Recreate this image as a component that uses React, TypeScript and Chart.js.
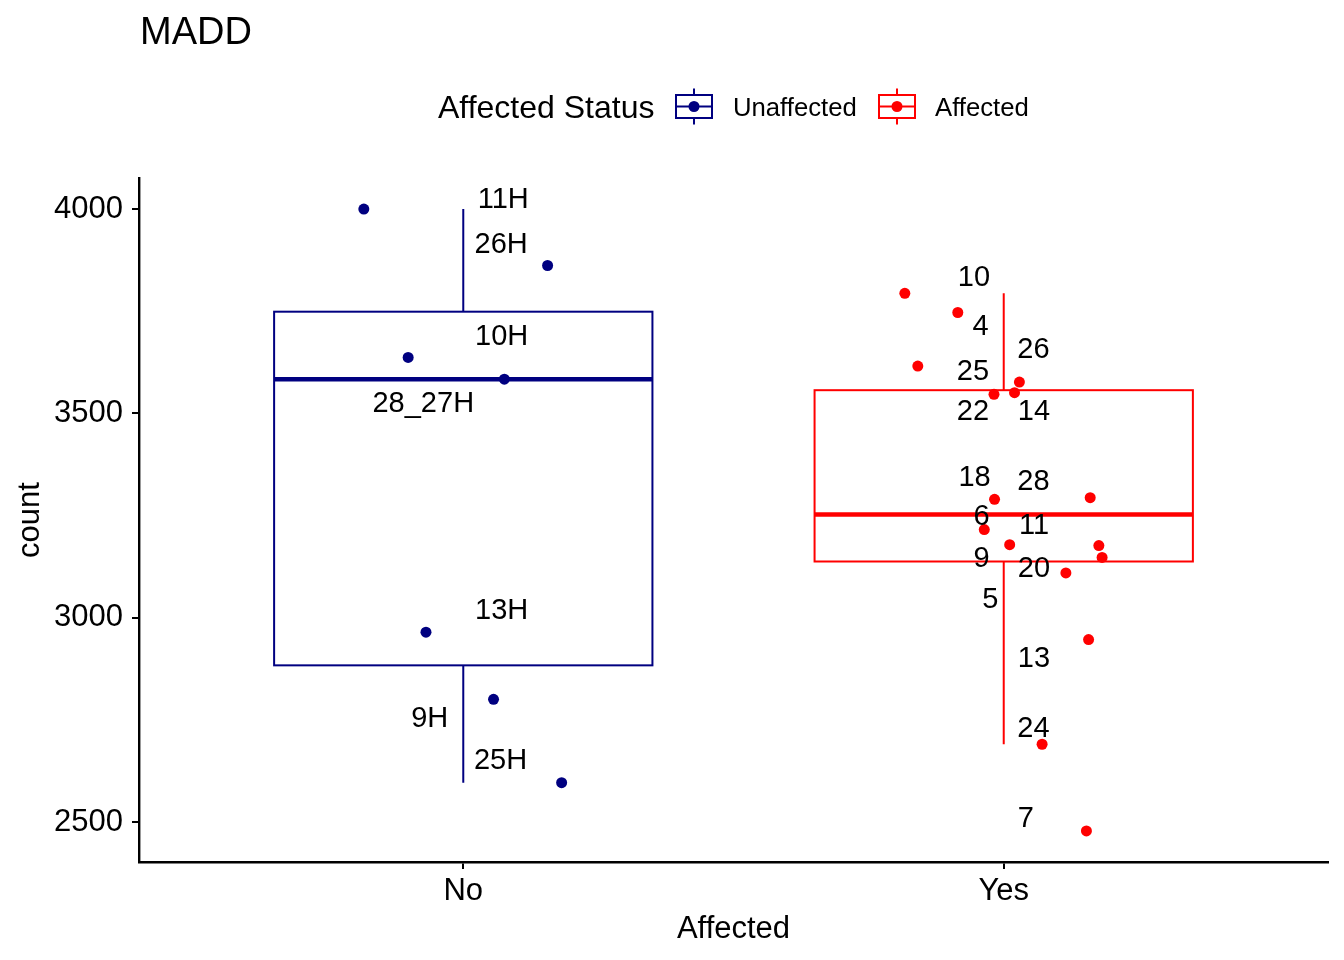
import { useEffect, useRef } from "react";
import Chart from "chart.js/auto";

const FONT = "'Liberation Sans', Arial, Helvetica, sans-serif";

const categories = ["No", "Yes"];
const groupNames = ["Unaffected", "Affected"];
const groupColors = ["#000080", "#FF0000"];
const yTicks = [2500, 3000, 3500, 4000];

// jittered x (category units, No = 1, Yes = 2) and counts
const unaffectedX = [0.816, 1.156, 0.898, 1.076, 0.931, 1.056, 1.182];
const unaffectedY = [4000, 3862, 3637, 3584, 2965, 2801, 2597];
const affectedX = [
  1.817, 1.915, 1.841, 2.029, 1.982, 2.02, 2.16, 1.983, 1.964, 2.011, 2.176,
  2.182, 2.115, 2.157, 2.071, 2.153,
];
const affectedY = [
  3794, 3747, 3616, 3577, 3547, 3551, 3294, 3290, 3216, 3179, 3177, 3148, 3110,
  2947, 2691, 2479,
];

// box stats: lower whisker, Q1, median, Q3, upper whisker
const unaffectedBox = [2597, 2884, 3584, 3749, 4000];
const affectedBox = [2691, 3138, 3253, 3557, 3794];

// repelled sample labels
const unaffectedLabels = ["11H", "26H", "10H", "28_27H", "13H", "9H", "25H"];
const unaffectedLabelX = [1.074, 1.07, 1.071, 0.926, 1.071, 0.938, 1.069];
const unaffectedLabelY = [4021, 3912, 3686, 3524, 3017, 2752, 2650];
const affectedLabels = [
  "10", "4", "26", "25", "22", "14", "18", "28", "6", "11", "9", "20", "5",
  "13", "24", "7",
];
const affectedLabelX = [
  1.945, 1.957, 2.055, 1.943, 1.943, 2.056, 1.946, 2.055, 1.959, 2.056, 1.959,
  2.056, 1.975, 2.056, 2.055, 2.041,
];
const affectedLabelY = [
  3832, 3711, 3656, 3601, 3503, 3503, 3343, 3332, 3247, 3224, 3145, 3120, 3045,
  2900, 2729, 2507,
];

const BOX_WIDTH = 0.7;

const boxPlugin = {
  id: "boxes",
  beforeDatasetsDraw(chart: any) {
    const { ctx, scales } = chart;
    const x = scales.x;
    const y = scales.y;
    [unaffectedBox, affectedBox].forEach((s, i) => {
      const cx = x.getPixelForValue(i + 1);
      const l = x.getPixelForValue(i + 1 - BOX_WIDTH / 2);
      const r = x.getPixelForValue(i + 1 + BOX_WIDTH / 2);
      const [lo, q1, med, q3, hi] = s.map((v) => y.getPixelForValue(v));
      ctx.save();
      ctx.strokeStyle = groupColors[i];
      ctx.lineWidth = 2;
      ctx.beginPath();
      ctx.moveTo(cx, hi);
      ctx.lineTo(cx, q3);
      ctx.moveTo(cx, q1);
      ctx.lineTo(cx, lo);
      ctx.stroke();
      ctx.strokeRect(l, q3, r - l, q1 - q3);
      ctx.lineWidth = 4.5;
      ctx.beginPath();
      ctx.moveTo(l, med);
      ctx.lineTo(r, med);
      ctx.stroke();
      ctx.restore();
    });
  },
};

const labelPlugin = {
  id: "sampleLabels",
  afterDatasetsDraw(chart: any) {
    const { ctx, scales } = chart;
    const groups = [
      [unaffectedLabels, unaffectedLabelX, unaffectedLabelY],
      [affectedLabels, affectedLabelX, affectedLabelY],
    ] as [string[], number[], number[]][];
    ctx.save();
    ctx.fillStyle = "#000";
    ctx.font = `29px ${FONT}`;
    ctx.textAlign = "center";
    ctx.textBaseline = "middle";
    groups.forEach(([txt, lx, ly]) => {
      txt.forEach((t, k) => {
        ctx.fillText(t, scales.x.getPixelForValue(lx[k]), scales.y.getPixelForValue(ly[k]));
      });
    });
    ctx.restore();
  },
};

const headerPlugin = {
  id: "header",
  afterDraw(chart: any) {
    const { ctx } = chart;
    ctx.save();
    ctx.fillStyle = "#000";
    ctx.textAlign = "left";
    ctx.textBaseline = "alphabetic";
    ctx.font = `38px ${FONT}`;
    ctx.fillText("MADD", 140, 44);

    const midY = 106.5;
    ctx.font = `32px ${FONT}`;
    ctx.fillText("Affected Status", 438, midY + 11.5);

    const keyLeft = [676, 879];
    const labelLeft = [733, 935];
    groupNames.forEach((name, i) => {
      const l = keyLeft[i];
      const w = 36;
      ctx.strokeStyle = groupColors[i];
      ctx.fillStyle = groupColors[i];
      ctx.lineWidth = 2;
      ctx.beginPath();
      ctx.moveTo(l + w / 2, midY - 18);
      ctx.lineTo(l + w / 2, midY - 11.5);
      ctx.moveTo(l + w / 2, midY + 11.5);
      ctx.lineTo(l + w / 2, midY + 18);
      ctx.moveTo(l, midY);
      ctx.lineTo(l + w, midY);
      ctx.stroke();
      ctx.strokeRect(l, midY - 11.5, w, 23);
      ctx.beginPath();
      ctx.arc(l + w / 2, midY, 5.5, 0, Math.PI * 2);
      ctx.fill();
      ctx.fillStyle = "#000";
      ctx.font = `25.7px ${FONT}`;
      ctx.fillText(name, labelLeft[i], midY + 9.5);
    });
    ctx.restore();
  },
};

const axisCommon = {
  grid: {
    drawOnChartArea: false,
    drawTicks: true,
    tickLength: 7,
    color: "#000",
    lineWidth: 2,
  },
  border: { display: true, color: "#000", width: 2.4 },
};

export default function App() {
  const canvasRef = useRef<HTMLCanvasElement>(null);

  useEffect(() => {
    document.body.style.margin = "0";
    if (!canvasRef.current) return;
    const chart = new Chart(canvasRef.current, {
      type: "scatter",
      data: {
        datasets: [
          {
            label: groupNames[0],
            data: unaffectedX.map((x, i) => ({ x, y: unaffectedY[i] })),
            backgroundColor: groupColors[0],
            pointRadius: 5.5,
            pointBorderWidth: 0,
          },
          {
            label: groupNames[1],
            data: affectedX.map((x, i) => ({ x, y: affectedY[i] })),
            backgroundColor: groupColors[1],
            pointRadius: 5.5,
            pointBorderWidth: 0,
          },
        ],
      },
      options: {
        responsive: false,
        animation: false,
        layout: { padding: { top: 178, right: 16, left: 0, bottom: 0 } },
        plugins: {
          legend: { display: false },
          tooltip: { enabled: false },
          title: { display: false },
        },
        scales: {
          x: {
            type: "linear",
            min: 0.4,
            max: 2.6,
            afterBuildTicks: (s: any) => {
              s.ticks = [1, 2].map((value) => ({ value }));
            },
            afterFit: (s: any) => {
              s.height = 98;
            },
            ...axisCommon,
            ticks: {
              color: "#000",
              font: { family: FONT, size: 31 },
              padding: 4,
              callback: (v: any) => categories[Math.round(Number(v)) - 1],
            },
            title: {
              display: true,
              text: "Affected",
              color: "#000",
              font: { family: FONT, size: 31 },
              padding: { top: 0, bottom: 12 },
            },
          },
          y: {
            min: 2403,
            max: 4076,
            afterBuildTicks: (s: any) => {
              s.ticks = yTicks.map((value) => ({ value }));
            },
            afterFit: (s: any) => {
              s.width = 139;
            },
            ...axisCommon,
            ticks: {
              color: "#000",
              font: { family: FONT, size: 31 },
              padding: 9,
              callback: (v: any) => String(v),
            },
            title: {
              display: true,
              text: "count",
              color: "#000",
              font: { family: FONT, size: 31 },
              padding: { top: 12, bottom: 0 },
            },
          },
        },
      },
      plugins: [boxPlugin, labelPlugin, headerPlugin],
    } as any);
    return () => chart.destroy();
  }, []);

  return (
    <canvas
      ref={canvasRef}
      width={1344}
      height={960}
      style={{ display: "block", width: 1344, height: 960 }}
    />
  );
}
